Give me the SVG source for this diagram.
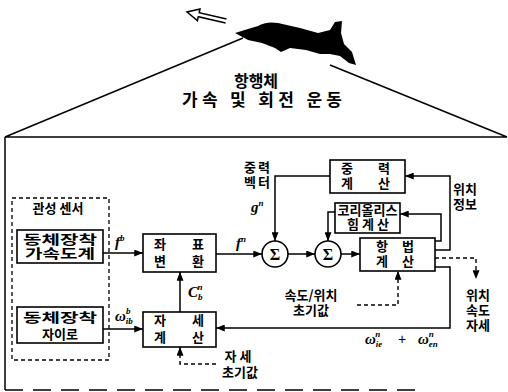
<svg xmlns="http://www.w3.org/2000/svg" width="508" height="392" viewBox="0 0 508 392">
<style>
.ln{stroke:#000;stroke-width:1.5;fill:none}
.dl{stroke:#000;stroke-width:1.4;fill:none;stroke-dasharray:4 3}
.box{fill:#fff;stroke:#000;stroke-width:1.6}
.kr{font-family:"Noto Sans CJK KR","Noto Sans",sans-serif;font-weight:bold;font-size:13px;fill:#000;text-anchor:middle}
.ttl{font-family:"Noto Sans CJK KR","Noto Sans",sans-serif;font-weight:bold;fill:#000;text-anchor:middle}
.sym{font-family:"Liberation Serif",serif;font-style:italic;font-weight:bold;font-size:15px;fill:#000}
.sub{font-size:9px}
.sig{font-family:"Liberation Serif",serif;font-weight:bold;font-size:16px;fill:#000;text-anchor:middle}
</style>
<defs>
<marker id="ah" viewBox="0 0 10 8" refX="10" refY="4" markerWidth="9" markerHeight="7" markerUnits="userSpaceOnUse" orient="auto">
<path d="M0,0 L10,4 L0,8 Z" fill="#000"/>
</marker>
</defs>

<!-- aircraft and its motion -->
<g id="aircraft">
<path d="M235,33 L248,29 L258,26 Q266,21 278,23 L300,28 L318,33 L330,30 L335,22 L342,21 L341,33 L344,44 L352,52 L356,65 L349,63 L340,56 L330,54 L320,54 L306,50 L290,48 L281,52 L275,48 L262,43 L248,40 Z" fill="#000"/>
<polyline points="226.5,19 199.2,12.8 200,8.9 187,12 197.4,20.6 198.3,16.7 225.6,23" class="ln"/>
</g>
<g id="frame">
<polyline points="243,38 5,137 507,137 330,65" class="ln"/>
<line x1="5" y1="137" x2="5" y2="390" class="ln"/>
<line x1="5" y1="390" x2="420" y2="390" stroke="#000" stroke-width="1.4" stroke-dasharray="18 10"/>
</g>
<g id="title">
<text x="256" y="87" class="ttl" font-size="16">항행체</text>
<text x="262" y="106" class="ttl" font-size="17" font-weight="normal" textLength="160" lengthAdjust="spacing">가속 및 회전 운동</text>
</g>

<!-- inertial sensors -->
<g id="sensors">
<rect x="12" y="198" width="97" height="162" fill="none" stroke="#000" stroke-width="1.3" stroke-dasharray="4 3"/>
<text x="58" y="213" class="kr">관성 센서</text>
</g>
<g id="accel">
<rect x="17" y="230" width="86" height="33" class="box"/>
<text x="60" y="244" class="kr" font-size="12.5" textLength="74" lengthAdjust="spacingAndGlyphs">동체장착</text>
<text x="60" y="258" class="kr" font-size="12.5" textLength="70" lengthAdjust="spacingAndGlyphs">가속도계</text>
</g>
<g id="gyro">
<rect x="17" y="307" width="86" height="36" class="box"/>
<text x="60" y="322" class="kr" font-size="14" textLength="74" lengthAdjust="spacingAndGlyphs">동체장착</text>
<text x="60" y="339" class="kr" font-size="14">자이로</text>
</g>

<!-- computation blocks -->
<g id="transform">
<rect x="143" y="234" width="73" height="38" class="box"/>
<text x="160" y="249" class="kr">좌</text><text x="198" y="249" class="kr">표</text>
<text x="160" y="266" class="kr">변</text><text x="198" y="266" class="kr">환</text>
</g>
<g id="attitude">
<rect x="143" y="312" width="73" height="35" class="box"/>
<text x="160" y="325" class="kr">자</text><text x="198" y="325" class="kr">세</text>
<text x="160" y="342" class="kr">계</text><text x="198" y="342" class="kr">산</text>
</g>
<g id="gravity">
<rect x="330" y="160" width="75" height="33" class="box"/>
<text x="347" y="173" class="kr">중</text><text x="384" y="173" class="kr">력</text>
<text x="347" y="188" class="kr">계</text><text x="384" y="188" class="kr">산</text>
</g>
<g id="coriolis">
<rect x="335" y="203" width="65" height="30" class="box"/>
<text x="367.5" y="215" class="kr" font-size="11.5" textLength="60" lengthAdjust="spacingAndGlyphs">코리올리스</text>
<text x="368" y="229" class="kr" font-size="11.5">힘 계 산</text>
</g>
<g id="nav">
<rect x="360" y="238" width="75" height="33" class="box"/>
<text x="382" y="251" class="kr">항</text><text x="408" y="251" class="kr">법</text>
<text x="382" y="266" class="kr">계</text><text x="408" y="266" class="kr">산</text>
</g>
<g id="sum1">
<circle cx="275" cy="254" r="13" class="box"/>
<text x="275" y="260" class="sig">Σ</text>
</g>
<g id="sum2">
<circle cx="328" cy="254" r="13" class="box"/>
<text x="328" y="260" class="sig">Σ</text>
</g>

<!-- connectors -->
<g id="connectors">
<path d="M103,253 H143" class="ln" marker-end="url(#ah)"/>
<path d="M103,329 H143" class="ln" marker-end="url(#ah)"/>
<path d="M180,312 V272" class="ln" marker-end="url(#ah)"/>
<path d="M216,254 H262" class="ln" marker-end="url(#ah)"/>
<path d="M330,176 H275 V241" class="ln" marker-end="url(#ah)"/>
<path d="M288,254 H315" class="ln" marker-end="url(#ah)"/>
<path d="M335,212 H328 V241" class="ln" marker-end="url(#ah)"/>
<path d="M341,254 H360" class="ln" marker-end="url(#ah)"/>
<path d="M435,241 H441 V214 H400" class="ln" marker-end="url(#ah)"/>
<path d="M435,250 H450 V176 H405" class="ln" marker-end="url(#ah)"/>
<path d="M435,267 H450 V328 H216" class="ln" marker-end="url(#ah)"/>
<path d="M435,258 H476 V279" class="dl" marker-end="url(#ah)"/>
<path d="M357,305 H398 V271" class="dl" marker-end="url(#ah)"/>
<path d="M216,364 H180 V347" class="dl" marker-end="url(#ah)"/>
</g>

<!-- signal labels -->
<g id="labels">
<text x="115" y="247" class="sym">f<tspan class="sub" dy="-6">b</tspan></text>
<text x="115" y="321" class="sym">ω<tspan class="sub" dy="3">ib</tspan><tspan class="sub" dx="-7" dy="-10">b</tspan></text>
<text x="188" y="297" class="sym">C<tspan class="sub" dy="3">b</tspan><tspan class="sub" dx="-5" dy="-10">n</tspan></text>
<text x="236" y="248" class="sym">f<tspan class="sub" dy="-6">n</tspan></text>
<text x="251" y="212" class="sym">g<tspan class="sub" dy="-6">n</tspan></text>
<text x="365" y="344" class="sym">ω<tspan class="sub" dy="3">ie</tspan><tspan class="sub" dx="-7" dy="-10">n</tspan></text>
<text x="402" y="344" font-family="Liberation Sans,sans-serif" font-size="14" text-anchor="middle">+</text>
<text x="418" y="344" class="sym">ω<tspan class="sub" dy="3">en</tspan><tspan class="sub" dx="-9" dy="-10">n</tspan></text>
<text x="250" y="172" class="kr">중</text><text x="264" y="172" class="kr">력</text>
<text x="250" y="187" class="kr">벡</text><text x="264" y="187" class="kr">터</text>
<text x="465" y="194" class="kr" font-size="12">위치</text>
<text x="465" y="209" class="kr" font-size="12">정보</text>
<text x="478" y="300" class="kr" font-size="12">위치</text>
<text x="478" y="315" class="kr" font-size="12">속도</text>
<text x="478" y="330" class="kr" font-size="12">자세</text>
<text x="311" y="300" class="kr" font-size="12">속도/위치</text>
<text x="311" y="315" class="kr" font-size="12">초기값</text>
<text x="238" y="361" class="kr" font-size="13">자  세</text>
<text x="240" y="377" class="kr" font-size="13">초기값</text>
</g>
</svg>
